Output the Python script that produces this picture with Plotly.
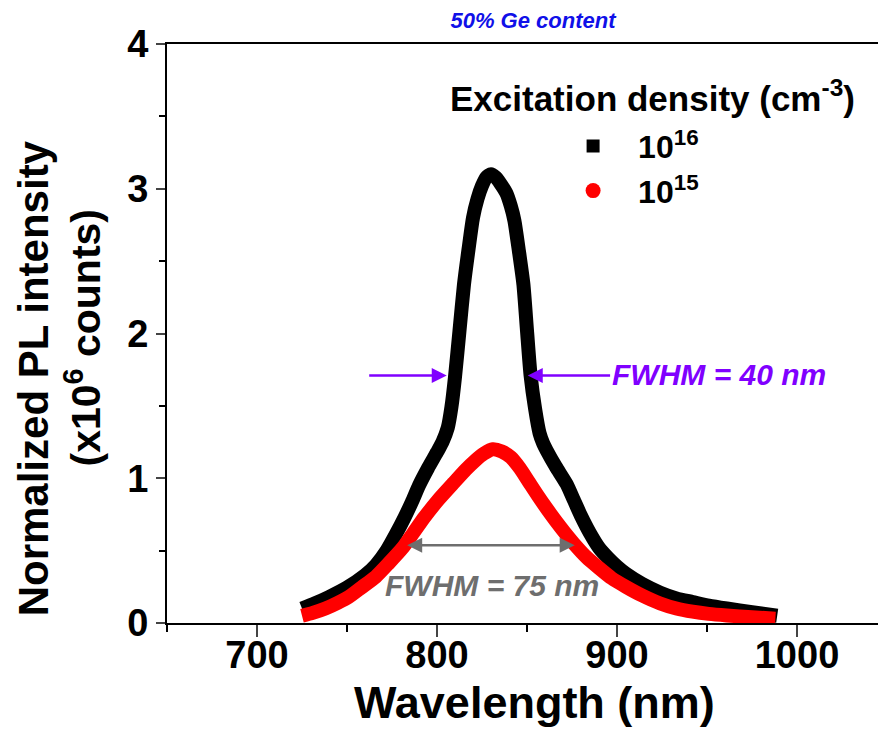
import plotly.graph_objects as go

# ---- data ----
wl_16 = [725, 732, 740, 750, 760, 766, 772, 777, 782, 786, 790, 795, 800, 803, 806, 808, 810, 812.5, 815, 817.5,
         820, 822.5, 825, 827.5, 830, 832.5, 835, 838.5, 841, 843, 845.5, 848, 850, 852, 854.5, 857, 859, 861,
         866, 872, 876, 880, 885, 890, 895, 900, 905, 914, 924, 933, 942, 951, 961, 975, 989]
pl_16 = [0.10, 0.135, 0.18, 0.245, 0.33, 0.40, 0.50, 0.61, 0.73, 0.835, 0.95, 1.07, 1.18, 1.25, 1.35, 1.49, 1.70, 2.02, 2.34, 2.58,
         2.80, 2.93, 3.02, 3.08, 3.10, 3.08, 3.04, 2.97, 2.88, 2.78, 2.57, 2.34, 2.02, 1.71, 1.48, 1.31, 1.24, 1.19,
         1.08, 0.96, 0.85, 0.74, 0.62, 0.52, 0.45, 0.39, 0.34, 0.27, 0.21, 0.17, 0.145, 0.12, 0.10, 0.075, 0.05]

wl_15 = [725, 731, 738, 745, 751, 758, 766, 773, 781, 787, 793, 801, 809, 816, 821, 826, 831, 836, 841, 846,
         851, 856, 861, 866, 871, 877, 883, 890, 897, 905, 914, 924, 933, 942, 951, 961, 975, 988]
pl_15 = [0.05, 0.07, 0.10, 0.14, 0.18, 0.245, 0.32, 0.41, 0.52, 0.625, 0.73, 0.855, 0.965, 1.06, 1.12, 1.17, 1.20, 1.185, 1.145, 1.07,
         0.975, 0.88, 0.79, 0.705, 0.625, 0.535, 0.455, 0.38, 0.31, 0.25, 0.19, 0.135, 0.10, 0.078, 0.063, 0.052, 0.04, 0.03]

series_names = ["10<sup>16</sup>", "10<sup>15</sup>"]
x_ticks = [700, 800, 900, 1000]
y_ticks = [0, 1, 2, 3, 4]

FONT = "Liberation Sans, Arial, sans-serif"

fig = go.Figure()
fig.add_trace(go.Scatter(x=wl_16, y=pl_16, mode="lines", showlegend=False,
                         line=dict(color="black", width=14, shape="spline", smoothing=0.6)))
fig.add_trace(go.Scatter(x=wl_15, y=pl_15, mode="lines", showlegend=False,
                         line=dict(color="#ff0000", width=14, shape="spline", smoothing=0.6)))
# legend entries
fig.add_trace(go.Scatter(x=[None], y=[None], mode="markers", name=series_names[0],
                         marker=dict(symbol="square", size=13, color="black")))
fig.add_trace(go.Scatter(x=[None], y=[None], mode="markers", name=series_names[1],
                         marker=dict(symbol="circle", size=15, color="#ff0000")))

purple = "#8000ff"
gray = "#6e6e6e"

annotations = [
    # y title (two lines)
    dict(text="Normalized PL intensity", xref="paper", yref="paper", x=-0.1885, y=0.4225,
         xanchor="center", yanchor="middle", textangle=-90, showarrow=False,
         font=dict(family=FONT, size=42, color="black", weight="bold")),
    dict(text="(x10<sup>6</sup> counts)", xref="paper", yref="paper", x=-0.118, y=0.4916,
         xanchor="center", yanchor="middle", textangle=-90, showarrow=False,
         font=dict(family=FONT, size=41, color="black", weight="bold")),
    # x title
    dict(text="Wavelength (nm)", xref="paper", yref="paper", x=0.517, y=-0.137,
         xanchor="center", yanchor="middle", showarrow=False,
         font=dict(family=FONT, size=45, color="black", weight="bold")),
    # legend title
    dict(text="Excitation density (cm<sup>-3</sup>)", xref="paper", yref="paper", x=0.683, y=0.911,
         xanchor="center", yanchor="middle", showarrow=False,
         font=dict(family=FONT, size=35, color="black", weight="bold")),
    # FWHM 40 nm arrows and label
    dict(text="", x=805.4, y=1.71, ax=761.5, ay=1.71, xref="x", yref="y", axref="x", ayref="y",
         showarrow=True, arrowhead=2, arrowsize=1.2, arrowwidth=2.5, arrowcolor=purple),
    dict(text="", x=850.4, y=1.71, ax=897, ay=1.71, xref="x", yref="y", axref="x", ayref="y",
         showarrow=True, arrowhead=2, arrowsize=1.2, arrowwidth=2.5, arrowcolor=purple),
    dict(text="<i>FWHM = 40 nm</i>", x=896, y=1.72, xref="x", yref="y", xanchor="left", yanchor="middle",
         showarrow=False, font=dict(family=FONT, size=30, color=purple, weight="bold")),
    # FWHM 75 nm double arrow and label
    dict(text="", x=876.5, y=0.537, ax=782.6, ay=0.537, xref="x", yref="y", axref="x", ayref="y",
         showarrow=True, arrowhead=2, arrowside="end+start", arrowsize=1.2, arrowwidth=2.5, arrowcolor=gray),
    dict(text="<i>FWHM = 75 nm</i>", x=830.4, y=0.26, xref="x", yref="y", xanchor="center", yanchor="middle",
         showarrow=False, font=dict(family=FONT, size=30, color=gray, weight="bold")),
]

fig.update_layout(
    width=878, height=743,
    margin=dict(l=167, r=0, t=44, b=120),
    paper_bgcolor="white", plot_bgcolor="white",
    title=dict(text="<i>50% Ge content</i>", x=0.607, y=0.973, xanchor="center", yanchor="middle",
               font=dict(family=FONT, size=22, color="#1010e8", weight="bold")),
    annotations=annotations,
    legend=dict(x=0.536, y=0.871, xanchor="left", yanchor="top", bgcolor="rgba(0,0,0,0)",
                itemwidth=80, font=dict(family=FONT, size=32, color="black", weight="bold")),
)

fig.update_xaxes(range=[650, 1045], tickvals=x_ticks, ticks="outside", ticklen=12, tickwidth=2,
                 ticklabelstandoff=-15,
                 showline=True, linecolor="black", linewidth=2, mirror=True, showgrid=False, zeroline=False,
                 minor=dict(dtick=50, tick0=650, ticks="outside", ticklen=7, tickwidth=2, tickcolor="black"),
                 tickfont=dict(family=FONT, size=38, color="black", weight="bold"))
fig.update_yaxes(range=[0, 4], tickvals=y_ticks, ticks="outside", ticklen=9, tickwidth=2,
                 showline=True, linecolor="black", linewidth=2, showgrid=False, zeroline=False,
                 minor=dict(dtick=0.5, tick0=0, ticks="outside", ticklen=6, tickwidth=2, tickcolor="black"),
                 tickfont=dict(family=FONT, size=38, color="black", weight="bold"))

fig.write_html("out.html", config={"displayModeBar": False},
               post_script="document.body.style.margin='0';")
